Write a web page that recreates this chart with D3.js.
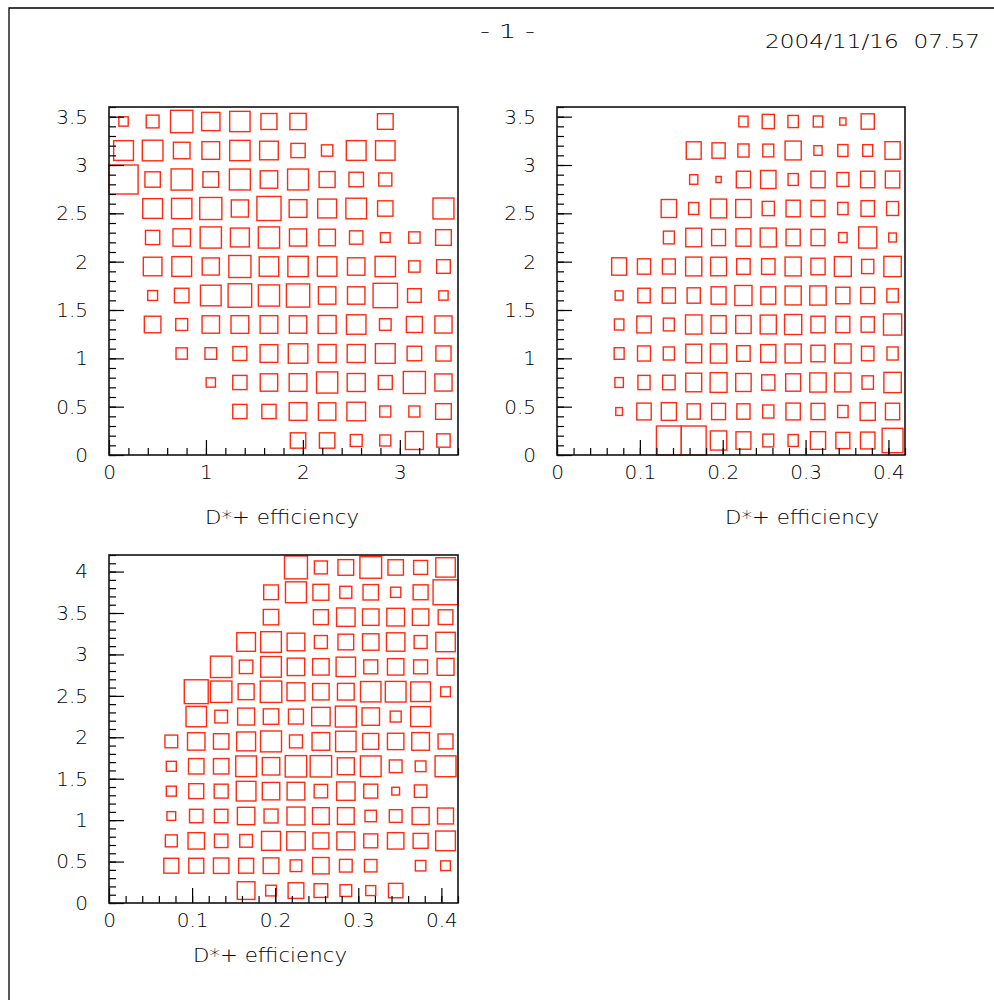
<!DOCTYPE html>
<html><head><meta charset="utf-8">
<script src="https://cdn.jsdelivr.net/npm/d3@7"></script>
<style>
html,body{margin:0;padding:0;background:#fff;}
text{font-family:"DejaVu Sans",sans-serif;font-weight:200;fill:#000;white-space:pre;}
</style></head>
<body><div id="chart"></div>
<script>
// ---------------- data ----------------
const pageTitle = "- 1 -";
const dateStamp = "2004/11/16  07.57";
const axisTitle = "D*+ efficiency";

// Panel 1: bin centres (bin width 0.3) and cell contents (rows top -> bottom)
const p1XCenters = [0.15,0.45,0.75,1.05,1.35,1.65,1.95,2.25,2.55,2.85,3.15,3.45];
const p1YCenters = [3.45,3.15,2.85,2.55,2.25,1.95,1.65,1.35,1.05,0.75,0.45,0.15];
const p1Values = [
  [32,44,77,63,70,55,56,0,0,54,0,0],
  [68,71,57,61,70,64,49,39,68,67,0,0],
  [100,53,73,54,72,60,72,55,50,45,0,0],
  [0,68,70,76,59,83,61,65,71,53,0,72],
  [0,49,60,73,65,73,59,57,46,33,39,54],
  [0,64,68,59,76,67,70,67,60,70,39,47],
  [0,34,50,71,81,73,80,60,60,84,47,32],
  [0,57,41,60,61,61,60,62,67,40,55,59],
  [0,0,39,40,48,61,67,62,62,68,50,52],
  [0,0,0,32,49,60,61,73,62,48,76,59],
  [0,0,0,0,49,49,61,60,64,38,38,54],
  [0,0,0,0,0,0,53,53,41,38,62,46]
];
const p1XTicks = [0,1,2,3];
const p1YTicks = [0,0.5,1,1.5,2,2.5,3,3.5];

// Panel 2: x bin width 0.03, y bin width 0.3
const p2XCenters = [0.075,0.105,0.135,0.165,0.195,0.225,0.255,0.285,0.315,0.345,0.375,0.405];
const p2YCenters = [3.45,3.15,2.85,2.55,2.25,1.95,1.65,1.35,1.05,0.75,0.45,0.15];
const p2Values = [
  [0,0,0,0,0,37,49,42,38,25,53,0],
  [0,0,0,60,53,45,44,65,33,41,40,61],
  [0,0,0,33,21,57,62,41,57,48,57,58],
  [0,0,62,41,65,62,49,57,56,42,54,48],
  [0,0,44,64,56,60,65,57,56,34,73,31],
  [60,53,52,65,64,54,54,65,57,68,49,70],
  [32,50,53,53,60,69,60,65,66,57,56,46],
  [38,58,44,66,61,62,65,69,57,56,53,73],
  [40,52,45,64,66,54,61,65,57,66,50,45],
  [34,49,50,64,68,62,53,60,66,65,46,70],
  [27,58,61,53,56,53,45,58,56,42,61,57],
  [0,0,100,100,66,60,44,41,61,56,58,84]
];
const p2XTicks = [0,0.1,0.2,0.3,0.4];
const p2YTicks = [0,0.5,1,1.5,2,2.5,3,3.5];

// Panel 3: x bin width 0.03, y bin width 0.3
const p3XCenters = [0.075,0.105,0.135,0.165,0.195,0.225,0.255,0.285,0.315,0.345,0.375,0.405];
const p3YCenters = [4.05,3.75,3.45,3.15,2.85,2.55,2.25,1.95,1.65,1.35,1.05,0.75,0.45,0.15];
const p3Values = [
  [0,0,0,0,0,92,52,63,87,62,56,78],
  [0,0,0,0,59,84,64,48,62,41,60,100],
  [0,0,0,0,62,0,60,74,66,71,66,59],
  [0,0,0,75,83,71,52,63,66,74,52,78],
  [0,0,86,54,83,70,66,78,56,66,56,68],
  [0,96,86,64,86,72,66,67,82,83,79,39],
  [0,82,51,68,62,60,74,84,70,44,80,0],
  [51,70,62,76,84,52,71,82,64,66,71,60],
  [40,62,62,83,70,86,86,68,83,51,43,84],
  [40,60,56,79,70,71,54,74,56,31,50,0],
  [35,54,54,70,56,72,67,67,46,51,68,64],
  [48,66,54,51,76,74,64,72,56,66,60,79],
  [60,60,62,60,63,47,66,51,50,0,42,39],
  [0,0,0,71,43,63,55,47,40,58,0,0]
];
const p3XTicks = [0,0.1,0.2,0.3,0.4];
const p3YTicks = [0,0.5,1,1.5,2,2.5,3,3.5,4];

// ---------------- drawing ----------------
const W = 994, H = 1000;
const BOX = "#ff2a10";
const svg = d3.select("#chart").append("svg").attr("width", W).attr("height", H)
  .style("display","block");

// page frame (left + top)
svg.append("path").attr("d", `M9,${H} L9,8 L${W},8`)
  .attr("fill","none").attr("stroke","#000").attr("stroke-width",1.3);

svg.append("text").attr("x", 480).attr("y", 38).attr("textLength",55)
  .attr("lengthAdjust","spacingAndGlyphs").style("font-size","20px").text(pageTitle);
svg.append("text").attr("x", 765).attr("y", 48).attr("textLength",215)
  .attr("lengthAdjust","spacingAndGlyphs").style("font-size","20px").text(dateStamp);

const panels = [
  {left:109, top:107, w:349, h:348, xDom:[0,3.6], yDom:[0,3.6], binX:0.3, binY:0.3,
   xc:p1XCenters, yc:p1YCenters, vals:p1Values, xt:p1XTicks, yt:p1YTicks,
   xMinor:0.2, yMinor:0.1, titleX:205, titleY:524},
  {left:557, top:107, w:348, h:348, xDom:[0,0.42], yDom:[0,3.6], binX:0.03, binY:0.3,
   xc:p2XCenters, yc:p2YCenters, vals:p2Values, xt:p2XTicks, yt:p2YTicks,
   xMinor:0.02, yMinor:0.1, titleX:725, titleY:524},
  {left:109, top:555, w:349, h:348, xDom:[0,0.42], yDom:[0,4.2], binX:0.03, binY:0.3,
   xc:p3XCenters, yc:p3YCenters, vals:p3Values, xt:p3XTicks, yt:p3YTicks,
   xMinor:0.02, yMinor:0.1, titleX:193, titleY:962}
];

const frac = d3.scaleLinear().domain([0,100]).range([0,1]);

panels.forEach(p => {
  const g = svg.append("g").attr("transform", `translate(${p.left},${p.top})`);
  const x = d3.scaleLinear().domain(p.xDom).range([0, p.w]);
  const y = d3.scaleLinear().domain(p.yDom).range([p.h, 0]);
  const bw = x(p.binX) - x(0), bh = y(0) - y(p.binY);

  // boxes
  const cells = [];
  p.vals.forEach((row, i) => row.forEach((v, j) => {
    if (v > 0) cells.push({cx: p.xc[j], cy: p.yc[i], v});
  }));
  g.append("g").selectAll("rect").data(cells).join("rect")
    .attr("x", d => x(d.cx) - frac(d.v) * bw / 2)
    .attr("y", d => y(d.cy) - frac(d.v) * bh / 2)
    .attr("width", d => frac(d.v) * bw)
    .attr("height", d => frac(d.v) * bh)
    .attr("fill", "none").attr("stroke", BOX).attr("stroke-width", 1.4);

  // minor ticks
  const xMinorVals = d3.range(0, p.xDom[1] + 1e-9, p.xMinor);
  const yMinorVals = d3.range(0, p.yDom[1] + 1e-9, p.yMinor);
  const ax1 = g.append("g").attr("transform", `translate(0,${p.h})`)
    .call(d3.axisBottom(x).tickValues(xMinorVals).tickSize(-7).tickFormat(""));
  const ay1 = g.append("g")
    .call(d3.axisLeft(y).tickValues(yMinorVals).tickSize(-7).tickFormat(""));
  // major ticks + labels
  const ax2 = g.append("g").attr("transform", `translate(0,${p.h})`)
    .call(d3.axisBottom(x).tickValues(p.xt).tickSize(-15).tickPadding(10).tickFormat(d3.format("")));
  const ay2 = g.append("g")
    .call(d3.axisLeft(y).tickValues(p.yt).tickSize(-15).tickPadding(21).tickFormat(d3.format("")));
  [ax1, ay1, ax2, ay2].forEach(a => {
    a.select(".domain").remove();
    a.selectAll(".tick line").attr("stroke", "#000").attr("stroke-width", 1.2);
    a.selectAll("text").style("font-size", "20px")
      .style("font-family", '"DejaVu Sans",sans-serif').style("font-weight", 200).attr("fill","#000");
  });

  // frame
  g.append("rect").attr("x", 0).attr("y", 0).attr("width", p.w).attr("height", p.h)
    .attr("fill", "none").attr("stroke", "#111").attr("stroke-width", 1.6);

  svg.append("text").attr("x", p.titleX).attr("y", p.titleY)
    .attr("textLength", 154).attr("lengthAdjust", "spacingAndGlyphs")
    .style("font-size", "20px").text(axisTitle);
});
</script></body></html>
